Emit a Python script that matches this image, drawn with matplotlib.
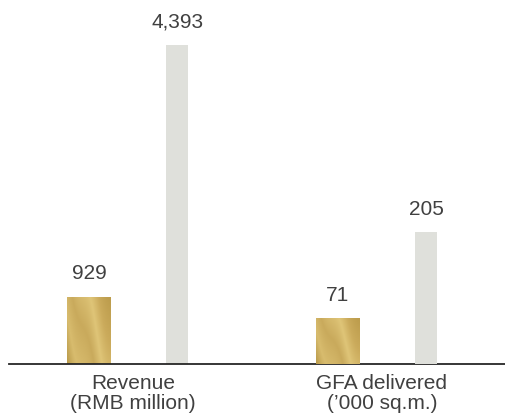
import numpy as np
import matplotlib
matplotlib.use("Agg")
import matplotlib.pyplot as plt
from matplotlib.colors import LinearSegmentedColormap

plt.rcParams['font.family'] = ['Liberation Sans', 'DejaVu Sans']

categories = ['Revenue\n(RMB million)', 'GFA delivered\n(\u2019000 sq.m.)']
revenue = [929, 4393]      # gold, grey
gfa = [71, 205]            # gold, grey
value_labels = [['929', '4,393'], ['71', '205']]

TEXT = '#404040'
GREY = '#dfe0db'
gold_cmap = LinearSegmentedColormap.from_list(
    'gold', ['#b99a4a', '#d8bc6e', '#c9aa5c', '#dfc578', '#cbab5c', '#bc9c4c'])

OFFSET = 0.177
GOLD_W = 0.173
GREY_W = 0.088


def gold_fill(ax, bar):
    # paint a metallic sheen inside the bar rectangle
    x0, y0 = bar.get_x(), bar.get_y()
    w, h = bar.get_width(), bar.get_height()
    xx, yy = np.meshgrid(np.linspace(0, 1, 60), np.linspace(0, 1, 120))
    f = 0.75 * xx + 0.3 * (1 - yy) + 0.05 * np.sin(xx * 9)
    f = (f - f.min()) / (f.max() - f.min())
    im = ax.imshow(f, cmap=gold_cmap, extent=[x0, x0 + w, y0, y0 + h],
                   origin='upper', aspect='auto', interpolation='bilinear',
                   zorder=3)
    im.set_clip_path(bar)
    bar.set_facecolor('none')


fig = plt.figure(figsize=(5.05, 4.19), dpi=100)
ax = fig.add_axes([9 / 505, 55 / 419, 496 / 505, 364 / 419])
ax2 = ax.twinx()

for a, g, vals, labels in [(ax, 0, revenue, value_labels[0]),
                           (ax2, 1, gfa, value_labels[1])]:
    b_gold = a.bar(g - OFFSET, vals[0], width=GOLD_W, color='#d2b464',
                   linewidth=0, zorder=2)[0]
    b_grey = a.bar(g + OFFSET, vals[1], width=GREY_W, color=GREY,
                   linewidth=0, zorder=2)[0]
    gold_fill(a, b_gold)
    for bar, lab in zip([b_gold, b_grey], labels):
        a.annotate(lab, (bar.get_x() + bar.get_width() / 2, bar.get_height()),
                   xytext=(0, 9.5), textcoords='offset points',
                   ha='center', va='bottom', fontsize=15, color=TEXT)

ax.set_xlim(-0.498, 1.494)
ax.set_ylim(0, 5013)
ax2.set_ylim(0, 565)

ax.set_xticks([0, 1])
ax.set_xticklabels(categories, fontsize=15, color=TEXT, linespacing=1.05)
ax.tick_params(axis='x', length=0, pad=7.5)
ax.set_yticks([])
ax2.set_yticks([])

for a in (ax, ax2):
    for s in ['top', 'left', 'right']:
        a.spines[s].set_visible(False)
    a.patch.set_visible(False)
ax2.spines['bottom'].set_visible(False)
ax.spines['bottom'].set_color('#262626')
ax.spines['bottom'].set_linewidth(1.3)
ax.spines['bottom'].set_zorder(5)

fig.savefig('out.png', dpi=100)
